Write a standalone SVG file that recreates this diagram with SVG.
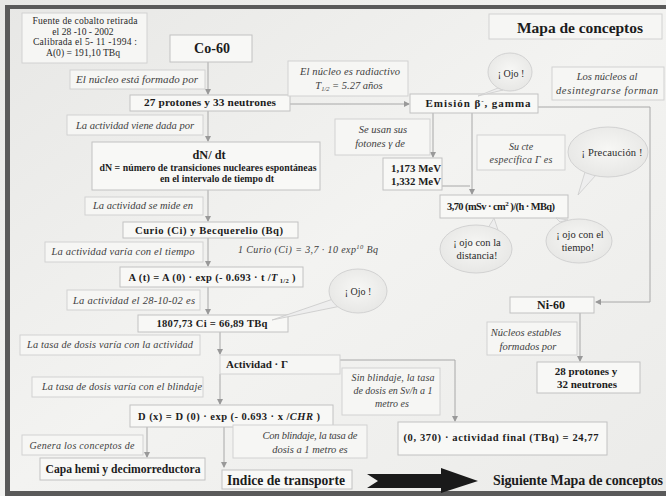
<svg xmlns="http://www.w3.org/2000/svg" width="666" height="496" viewBox="0 0 666 496">
<defs>
<linearGradient id="bg" x1="0" y1="0" x2="1" y2="1">
<stop offset="0" stop-color="#e7e7e5"/>
<stop offset="0.5" stop-color="#f3f3f1"/>
<stop offset="1" stop-color="#ebebe9"/>
</linearGradient>
<radialGradient id="bubg" cx="0.5" cy="0.45" r="0.6">
<stop offset="0" stop-color="#f7f7f5"/>
<stop offset="1" stop-color="#e6e6e4"/>
</radialGradient>
<marker id="ar" markerWidth="6" markerHeight="6" refX="5" refY="3" orient="auto" markerUnits="userSpaceOnUse">
<path d="M0,0 L6,3 L0,6 z" fill="#999"/>
</marker>
</defs>
<style>
.bx{fill:#f8f8f6;stroke:#c2c2c2;stroke-width:1}
.lb{fill:#f6f6f4;stroke:#d2d2d2;stroke-width:1}
.b{font-family:"Liberation Serif",serif;font-weight:bold;fill:#1c1c1c;text-anchor:middle}
.r{font-family:"Liberation Serif",serif;fill:#2a2a2a;text-anchor:middle}
.i{font-family:"Liberation Serif",serif;font-style:italic;fill:#404040;text-anchor:middle}
.c{fill:none;stroke:#a8a8a8;stroke-width:1}
.bub{fill:url(#bubg);stroke:#d2d2d2;stroke-width:1}
</style>
<rect x="0" y="0" width="666" height="496" fill="url(#bg)"/>
<rect x="5" y="5" width="661" height="4" fill="#5a5a5a"/>
<rect x="5" y="5" width="5" height="490" fill="#5a5a5a"/>
<rect x="5" y="491" width="661" height="5" fill="#5a5a5a"/>

<g id="connectors">
<path class="c" d="M208,62 V94" marker-end="url(#ar)"/>
<path class="c" d="M208,110 V141" marker-end="url(#ar)"/>
<path class="c" d="M208,190 V221" marker-end="url(#ar)"/>
<path class="c" d="M208,238 V266" marker-end="url(#ar)"/>
<path class="c" d="M208,287 V314" marker-end="url(#ar)"/>
<path class="c" d="M220,332 V354" marker-end="url(#ar)"/>
<path class="c" d="M220,374 V404" marker-end="url(#ar)"/>
<path class="c" d="M147,427 V457" marker-end="url(#ar)"/>
<path class="c" d="M224,427 V467" marker-end="url(#ar)"/>
<path class="c" d="M340,360 H455 V421" marker-end="url(#ar)"/>
<path class="c" d="M290,104 H409" marker-end="url(#ar)"/>
<path class="c" d="M433,113 V157" marker-end="url(#ar)"/>
<path class="c" d="M472,113 V194" marker-end="url(#ar)"/>
<path class="c" d="M538,107 H650 V302 H596" marker-end="url(#ar)"/>
<path class="c" d="M580,313 V361" marker-end="url(#ar)"/>
<path class="c" d="M442,186 H470"/>
</g>

<g id="frame-title">
<rect class="lb" x="489" y="14" width="173" height="25"/>
<text class="b" x="580" y="33" font-size="15.5" textLength="126">Mapa de conceptos</text>
</g>

<g id="fuente">
<rect class="lb" x="22" y="13" width="125" height="50"/>
<text class="r" x="85" y="24" font-size="9.6" textLength="105">Fuente de cobalto retirada</text>
<text class="r" x="83" y="34.5" font-size="9.6">el 28 -10 - 2002</text>
<text class="r" x="85" y="45" font-size="9.6" textLength="104">Calibrada el  5- 11 -1994 :</text>
<text class="r" x="83" y="56" font-size="9.6">A(0) = 191,10 TBq</text>
</g>

<g id="co60">
<rect class="bx" x="170" y="35" width="82" height="27"/>
<text class="b" x="212" y="53" font-size="14">Co-60</text>
</g>

<g id="lbl-formado">
<rect class="lb" x="70" y="70" width="135" height="19"/>
<text class="i" x="137" y="83" font-size="11" textLength="122">El núcleo está formado por</text>
</g>

<g id="protones27">
<rect class="bx" x="130" y="95" width="160" height="16"/>
<text class="b" x="210" y="106" font-size="11.3" textLength="132">27 protones y 33 neutrones</text>
</g>

<g id="lbl-radiactivo">
<rect class="lb" x="288" y="61" width="120" height="35"/>
<text class="i" x="350" y="75" font-size="10.5" textLength="100">El núcleo es radiactivo</text>
<text class="i" x="349" y="89" font-size="10.5">T<tspan font-size="6.5" dy="2">1/2</tspan><tspan dy="-2"> = 5.27 años</tspan></text>
</g>

<g id="emision">
<rect class="bx" x="410" y="94" width="128" height="19"/>
<text class="b" x="478" y="107" font-size="11" textLength="105">Emisión β<tspan font-size="7" dy="-4">-</tspan><tspan dy="4">, gamma</tspan></text>
</g>

<g id="ojo-top">
<path d="M498,88 L478,96 L503,90 z" fill="#eee" stroke="#ccc" stroke-width="0.8"/>
<ellipse class="bub" cx="510" cy="72" rx="22" ry="19"/>
<text class="r" x="511" y="77" font-size="10">¡ Ojo !</text>
</g>

<g id="lbl-desintegrarse">
<rect class="lb" x="552" y="67" width="112" height="33"/>
<text class="i" x="607" y="80" font-size="10.5">Los núcleos al</text>
<text class="i" x="607" y="94" font-size="10.5" textLength="102">desintegrarse forman</text>
</g>

<g id="lbl-dada">
<rect class="lb" x="67" y="115" width="136" height="20"/>
<text class="i" x="135" y="129" font-size="10.6" textLength="118">La actividad viene dada por</text>
</g>

<g id="dndt">
<rect class="bx" x="92" y="142" width="228" height="48"/>
<text class="b" x="209" y="159" font-size="12.3">dN/ dt</text>
<text class="b" x="208" y="171" font-size="9.8" textLength="217">dN = número de transiciones nucleares espontáneas</text>
<text class="b" x="217" y="182" font-size="9.8">en el intervalo de tiempo dt</text>
</g>

<g id="lbl-fotones">
<rect class="lb" x="335" y="119" width="95" height="36"/>
<text class="i" x="383" y="133" font-size="10.5">Se usan sus</text>
<text class="i" x="380" y="147" font-size="10.5">fotones γ de</text>
</g>

<g id="mev">
<rect class="bx" x="383" y="158" width="59" height="32"/>
<text class="b" x="416" y="172" font-size="10.8" textLength="50">1,173 MeV</text>
<text class="b" x="416" y="185" font-size="10.8" textLength="50">1,332 MeV</text>
</g>

<g id="lbl-cte">
<rect class="lb" x="477" y="135" width="88" height="35"/>
<text class="i" x="521" y="150" font-size="10">Su cte</text>
<text class="i" x="521" y="163" font-size="10" textLength="63">específica Γ es</text>
</g>

<g id="precaucion">
<path d="M585,172 L578,195 L596,175 z" fill="#eee" stroke="#ccc" stroke-width="0.8"/>
<ellipse class="bub" cx="608" cy="152" rx="40" ry="25"/>
<text class="r" x="612" y="156" font-size="10.5" textLength="61">¡ Precaución !</text>
</g>

<g id="cte370">
<rect class="bx" x="440" y="195" width="128" height="23"/>
<text class="b" x="501" y="210" font-size="10.4" textLength="108">3,70 (mSv · cm<tspan font-size="7" dy="-4">2</tspan><tspan dy="4"> )/(h · MBq)</tspan></text>
</g>

<g id="ojo-distancia">
<path d="M488,228 L494,218 L498,230 z" fill="#eee" stroke="#ccc" stroke-width="0.8"/>
<ellipse class="bub" cx="476" cy="249" rx="36" ry="24"/>
<text class="r" x="477" y="246" font-size="10.5">¡ ojo con la</text>
<text class="r" x="477" y="259" font-size="10.5">distancia!</text>
</g>

<g id="ojo-tiempo">
<path d="M560,222 L556,218 L568,220 z" fill="#eee" stroke="#ccc" stroke-width="0.8"/>
<ellipse class="bub" cx="579" cy="241" rx="33" ry="22"/>
<text class="r" x="580" y="238" font-size="10.5">¡ ojo con el</text>
<text class="r" x="578" y="251" font-size="10.5">tiempo!</text>
</g>

<g id="lbl-mide">
<rect class="lb" x="85" y="197" width="118" height="18"/>
<text class="i" x="143" y="209" font-size="10.5" textLength="100">La actividad se mide en</text>
</g>

<g id="curio">
<rect class="bx" x="123" y="222" width="175" height="16"/>
<text class="b" x="209" y="234" font-size="10.6" textLength="148">Curio (Ci) y  Becquerelio (Bq)</text>
</g>

<g id="curio-eq">
<text class="i" x="308" y="253" font-size="10" textLength="140">1 Curio (Ci) = 3,7 · 10 exp<tspan font-size="6.5" dy="-4">10</tspan><tspan dy="4">  Bq</tspan></text>
</g>

<g id="lbl-tiempo">
<rect class="lb" x="45" y="242" width="158" height="20"/>
<text class="i" x="123" y="255" font-size="10.5" textLength="143">La actividad varía con el tiempo</text>
</g>

<g id="at">
<rect class="bx" x="120" y="267" width="183" height="20"/>
<text class="b" x="212" y="281" font-size="10.5" textLength="167">A (t) = A (0) · exp (- 0.693 · t /<tspan font-style="italic">T</tspan><tspan font-size="6.5" dy="2"> 1/2</tspan><tspan dy="-2"> )</tspan></text>
</g>

<g id="lbl-2810">
<rect class="lb" x="67" y="290" width="133" height="20"/>
<text class="i" x="134" y="304" font-size="10.5" textLength="122">La actividad el 28-10-02 es</text>
</g>

<g id="act1807">
<rect class="bx" x="138" y="315" width="150" height="17"/>
<text class="b" x="212" y="327" font-size="10.6" textLength="111">1807,73 Ci = 66,89 TBq</text>
</g>

<g id="ojo-mid">
<path d="M336,298 L272,320 L341,306 z" fill="#eee" stroke="#c8c8c8" stroke-width="0.8"/>
<ellipse class="bub" cx="358" cy="291" rx="29" ry="22"/>
<text class="r" x="358" y="295" font-size="10">¡ Ojo !</text>
</g>

<g id="lbl-tasa-act">
<rect class="lb" x="20" y="335" width="180" height="20"/>
<text class="i" x="110" y="348" font-size="10.3" textLength="166">La tasa de dosis varía con la actividad</text>
</g>

<g id="actividad-gamma">
<rect class="lb" x="220" y="355" width="120" height="19"/>
<text class="b" x="257" y="368" font-size="11">Actividad · Γ</text>
</g>

<g id="lbl-tasa-blind">
<rect class="lb" x="32" y="377" width="171" height="20"/>
<text class="i" x="122" y="390" font-size="10.3" textLength="160">La tasa de dosis varía con el blindaje</text>
</g>

<g id="lbl-sin">
<rect class="lb" x="342" y="368" width="98" height="47"/>
<text class="i" x="393" y="381" font-size="10" textLength="83">Sin blindaje, la tasa</text>
<text class="i" x="393" y="394" font-size="10">de dosis en Sv/h a 1</text>
<text class="i" x="392" y="407" font-size="10">metro es</text>
</g>

<g id="dx">
<rect class="bx" x="130" y="405" width="203" height="22"/>
<text class="b" x="229" y="420" font-size="10.5" textLength="182">D (x) = D (0) · exp (- 0.693  · x /<tspan font-style="italic">CHR</tspan>  )</text>
</g>

<g id="final">
<rect class="bx" x="398" y="422" width="209" height="33"/>
<text class="b" x="501" y="441" font-size="10.5" textLength="195">(0, 370) · actividad final  (TBq) = 24,77</text>
</g>

<g id="lbl-genera">
<rect class="lb" x="22" y="435" width="121" height="20"/>
<text class="i" x="82" y="449" font-size="10" textLength="105">Genera los conceptos de</text>
</g>

<g id="capa">
<rect class="bx" x="40" y="458" width="165" height="22"/>
<text class="b" x="123" y="473" font-size="11.6" textLength="155">Capa hemi y decimorreductora</text>
</g>

<g id="lbl-con">
<rect class="lb" x="233" y="425" width="134" height="33"/>
<text class="i" x="310" y="439" font-size="10.5" textLength="95">Con blindaje, la tasa de</text>
<text class="i" x="310" y="453" font-size="10.5">dosis a 1 metro es</text>
</g>

<g id="indice">
<rect class="bx" x="222" y="470" width="130" height="19"/>
<text class="b" x="286" y="485" font-size="13.6" textLength="118">Indice de transporte</text>
</g>

<g id="siguiente">
<path d="M367,474 H441 V468 L478,481 L441,493 V488 H367 L378,481 z" fill="#1a1a1a"/>
<text class="b" x="578" y="485" font-size="14" textLength="170">Siguiente Mapa de conceptos</text>
</g>

<g id="ni60">
<rect class="bx" x="510" y="297" width="84" height="16"/>
<text class="b" x="551" y="309" font-size="12">Ni-60</text>
</g>

<g id="lbl-estables">
<rect class="lb" x="487" y="322" width="90" height="33"/>
<text class="i" x="526" y="336" font-size="10.5">Núcleos estables</text>
<text class="i" x="528" y="350" font-size="10.5">formados por</text>
</g>

<g id="protones28">
<rect class="bx" x="537" y="362" width="103" height="31"/>
<text class="b" x="586" y="375" font-size="11">28 protones y</text>
<text class="b" x="587" y="388" font-size="11">32 neutrones</text>
</g>
</svg>
